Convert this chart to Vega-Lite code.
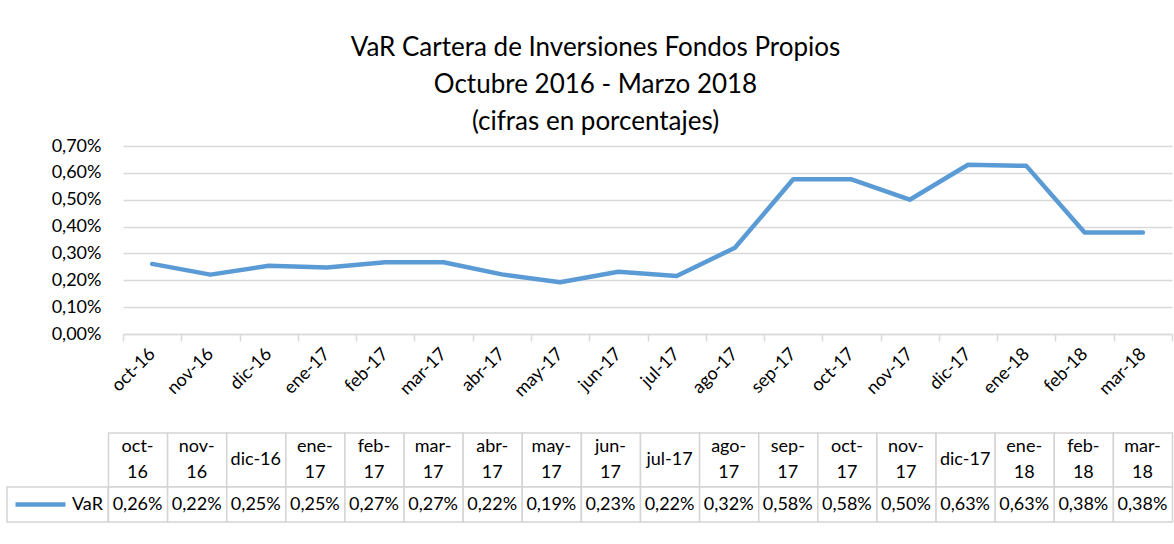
{
  "$schema": "https://vega.github.io/schema/vega-lite/v6.json",
  "width": 1049,
  "height": 188,
  "autosize": {"type": "none"},
  "padding": {"left": 123, "top": 146, "right": 2, "bottom": 210},
  "background": "white",
  "config": {"view": {"stroke": null}},
  "title": {
    "text": ["VaR Cartera de Inversiones Fondos Propios", "Octubre 2016 - Marzo 2018", "(cifras en porcentajes)"],
    "font": "Lato",
    "fontSize": 26,
    "fontWeight": "normal",
    "color": "black",
    "lineHeight": 37,
    "anchor": "middle",
    "frame": "group",
    "dx": -52,
    "offset": 2
  },
  "data": {
    "values": [
      {"mes": "oct-16", "etiqueta": "oct-\n16", "orden": 1, "valor": 0.261},
      {"mes": "nov-16", "etiqueta": "nov-\n16", "orden": 2, "valor": 0.221},
      {"mes": "dic-16", "etiqueta": "dic-16", "orden": 3, "valor": 0.254},
      {"mes": "ene-17", "etiqueta": "ene-\n17", "orden": 4, "valor": 0.248},
      {"mes": "feb-17", "etiqueta": "feb-\n17", "orden": 5, "valor": 0.267},
      {"mes": "mar-17", "etiqueta": "mar-\n17", "orden": 6, "valor": 0.267},
      {"mes": "abr-17", "etiqueta": "abr-\n17", "orden": 7, "valor": 0.222},
      {"mes": "may-17", "etiqueta": "may-\n17", "orden": 8, "valor": 0.193},
      {"mes": "jun-17", "etiqueta": "jun-\n17", "orden": 9, "valor": 0.232},
      {"mes": "jul-17", "etiqueta": "jul-17", "orden": 10, "valor": 0.216},
      {"mes": "ago-17", "etiqueta": "ago-\n17", "orden": 11, "valor": 0.321},
      {"mes": "sep-17", "etiqueta": "sep-\n17", "orden": 12, "valor": 0.576},
      {"mes": "oct-17", "etiqueta": "oct-\n17", "orden": 13, "valor": 0.576},
      {"mes": "nov-17", "etiqueta": "nov-\n17", "orden": 14, "valor": 0.500},
      {"mes": "dic-17", "etiqueta": "dic-17", "orden": 15, "valor": 0.630},
      {"mes": "ene-18", "etiqueta": "ene-\n18", "orden": 16, "valor": 0.626},
      {"mes": "feb-18", "etiqueta": "feb-\n18", "orden": 17, "valor": 0.378},
      {"mes": "mar-18", "etiqueta": "mar-\n18", "orden": 18, "valor": 0.378}
    ]
  },
  "layer": [
    {
      "mark": {"type": "line", "strokeWidth": 4.5, "strokeCap": "round", "strokeJoin": "round"},
      "encoding": {
        "x": {
          "field": "mes", "type": "ordinal", "sort": null,
          "scale": {"type": "band", "paddingInner": 0, "paddingOuter": 0},
          "axis": {
            "title": null, "labelAngle": -45, "labelAlign": "right", "labelBaseline": "middle",
            "labelFont": "Lato", "labelFontSize": 18, "labelColor": "black", "labelPadding": 10,
            "labelOverlap": false,
            "tickBand": "extent", "tickSize": 7, "tickColor": "#D9D9D9", "tickWidth": 1.5,
            "domainColor": "#D9D9D9", "domainWidth": 1.5, "grid": false
          }
        },
        "y": {
          "field": "valor", "type": "quantitative",
          "scale": {"domain": [0, 0.7], "nice": false},
          "axis": {
            "title": null, "values": [0, 0.1, 0.2, 0.3, 0.4, 0.5, 0.6, 0.7],
            "labelExpr": "replace(format(datum.value, '.2f'), '.', ',') + '%'",
            "labelOverlap": false,
            "ticks": false, "domain": false, "grid": true, "gridColor": "#D9D9D9", "gridWidth": 1.5,
            "labelFont": "Lato", "labelFontSize": 18, "labelColor": "black", "labelPadding": 22
          }
        },
        "color": {
          "datum": "VaR",
          "scale": {"range": ["#5B9BD5"]},
          "legend": {
            "title": null, "orient": "none", "legendX": -110, "legendY": 331,
            "symbolType": "stroke", "symbolSize": 2500, "symbolStrokeWidth": 4.5,
            "labelFont": "Lato", "labelFontSize": 18, "labelColor": "black", "labelOffset": 4, "padding": 0
          }
        }
      }
    },
    {
      "layer": [
        {
          "mark": {"type": "rect", "fill": "white", "stroke": "#D4D4D4", "strokeWidth": 1.5},
          "encoding": {
            "x": {"field": "orden", "type": "quantitative", "bin": {"step": 1, "extent": [1, 19]}, "scale": {"domain": [1.2538, 19], "nice": false, "zero": false}, "axis": null},
            "y": {"datum": -0.3686, "type": "quantitative", "scale": {"domain": [0, 0.7], "nice": false, "zero": false}, "axis": null},
            "y2": {"datum": -0.5697}
          }
        },
        {
          "mark": {"type": "rect", "fill": "white", "stroke": "#D4D4D4", "strokeWidth": 1.5},
          "encoding": {
            "x": {"field": "orden", "type": "quantitative", "bin": {"step": 1, "extent": [1, 19]}, "axis": null},
            "y": {"datum": -0.5697, "type": "quantitative", "axis": null},
            "y2": {"datum": -0.7}
          }
        },
        {
          "data": {"values": [{"celda": "leyenda"}]},
          "mark": {"type": "rect", "fill": "white", "stroke": "#D4D4D4", "strokeWidth": 1.5},
          "encoding": {
            "x": {"datum": -0.7087, "type": "quantitative", "axis": null},
            "x2": {"datum": 1},
            "y": {"datum": -0.5697, "type": "quantitative", "axis": null},
            "y2": {"datum": -0.7}
          }
        },
        {
          "mark": {"type": "text", "font": "Lato", "fontSize": 18, "color": "black", "lineHeight": 26, "align": "center", "baseline": "middle",
                   "text": {"expr": "split(datum.etiqueta, '\\n')"},
                   "dy": {"expr": "length(split(datum.etiqueta, '\\n')) > 1 ? -13 : 0"}},
          "encoding": {
            "x": {"field": "orden", "type": "quantitative", "bin": {"step": 1, "extent": [1, 19]}, "axis": null},
            "y": {"datum": -0.469, "type": "quantitative", "axis": null}
          }
        },
        {
          "mark": {"type": "text", "font": "Lato", "fontSize": 18, "color": "black", "align": "center", "baseline": "middle",
                   "text": {"expr": "replace(format(datum.valor, '.2f'), '.', ',') + '%'"}},
          "encoding": {
            "x": {"field": "orden", "type": "quantitative", "bin": {"step": 1, "extent": [1, 19]}, "axis": null},
            "y": {"datum": -0.635, "type": "quantitative", "axis": null}
          }
        }
      ]
    }
  ],
  "resolve": {"scale": {"x": "independent", "y": "independent", "color": "independent"}}
}
